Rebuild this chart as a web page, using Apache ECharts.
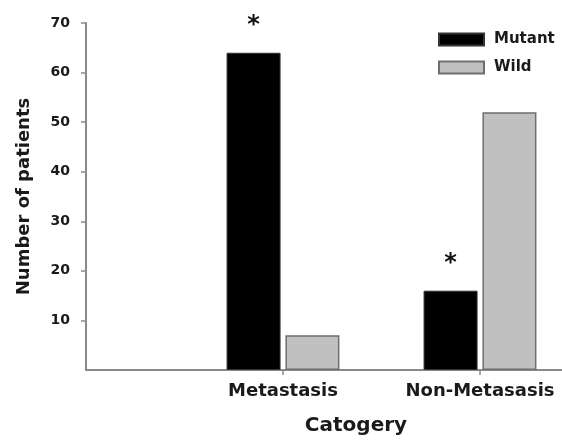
<!DOCTYPE html>
<html>
<head>
<meta charset="utf-8">
<script src="https://cdn.jsdelivr.net/npm/echarts@6/dist/echarts.min.js"></script>
<style>
html,body{margin:0;padding:0;background:#fff;}
#chart{width:562px;height:441px;}
</style>
</head>
<body>
<div id="chart"></div>
<script>
const categories = ['Metastasis', 'Non-Metasasis'];
const mutantValues = [64, 16];
const wildValues = [7, 52];
const mutantMarks = ['*', '*'];
const yTicks = [10, 20, 30, 40, 50, 60, 70];

// pad the category axis with empty slots at both ends (axis starts at the y-axis)
const axisCats = [''].concat(categories, ['']);
const pad = arr => [null].concat(arr, [null]);
const marks = [''].concat(mutantMarks, ['']);

const FONT = 'DejaVu Sans';
const chart = echarts.init(document.getElementById('chart'), null, {renderer: 'canvas'});
chart.setOption({
  backgroundColor: '#ffffff',
  animation: false,
  textStyle: {fontFamily: FONT},
  grid: {left: 86, right: -115, top: 23, bottom: 71, containLabel: false, outerBoundsMode: 'none'},
  legend: {
    orient: 'vertical',
    left: 433, top: 27,
    itemWidth: 45, itemHeight: 12, itemGap: 13,
    icon: 'rect',
    textStyle: {fontFamily: FONT, fontSize: 15, fontWeight: 'bold', color: '#1a1a1a', padding: [0, 0, 0, 5]},
    data: ['Mutant', 'Wild']
  },
  xAxis: {
    type: 'category',
    data: axisCats,
    boundaryGap: false,
    name: 'Catogery',
    nameLocation: 'middle',
    nameGap: 46,
    nameTextStyle: {fontFamily: FONT, fontSize: 20, fontWeight: 'bold', color: '#1a1a1a', padding: [0, 51, 0, 0]},
    axisLine: {show: true, lineStyle: {color: '#8a8a8a', width: 2}},
    axisTick: {show: true, length: 5, interval: i => i !== 0, lineStyle: {color: '#8a8a8a', width: 1.5}},
    axisLabel: {interval: 0, margin: 12, fontFamily: FONT, fontSize: 18, fontWeight: 'bold', color: '#1a1a1a'},
    splitLine: {show: false}
  },
  yAxis: {
    type: 'value',
    min: 0, max: 70, interval: 10,
    name: 'Number of patients',
    nameLocation: 'middle',
    nameGap: 53,
    nameTextStyle: {fontFamily: FONT, fontSize: 18, fontWeight: 'bold', color: '#1a1a1a'},
    axisLine: {show: true, lineStyle: {color: '#8a8a8a', width: 2}},
    axisTick: {show: true, length: 5, customValues: yTicks, lineStyle: {color: '#8a8a8a', width: 1.5}},
    axisLabel: {customValues: yTicks, margin: 16, fontFamily: FONT, fontSize: 14, fontWeight: 'bold', color: '#1a1a1a'},
    splitLine: {show: false}
  },
  series: [
    {
      name: 'Mutant',
      type: 'bar',
      data: pad(mutantValues),
      barWidth: 54,
      barGap: '9%',
      itemStyle: {color: '#000000', borderColor: '#333333', borderWidth: 1},
      label: {
        show: true,
        position: 'top',
        distance: 15,
        fontFamily: FONT,
        fontSize: 24,
        fontWeight: 'bold',
        color: '#111',
        formatter: p => marks[p.dataIndex]
      }
    },
    {
      name: 'Wild',
      type: 'bar',
      data: pad(wildValues),
      barWidth: 54,
      itemStyle: {color: '#c0c0c0', borderColor: '#6e6e6e', borderWidth: 1.5}
    }
  ]
});
</script>
</body>
</html>
